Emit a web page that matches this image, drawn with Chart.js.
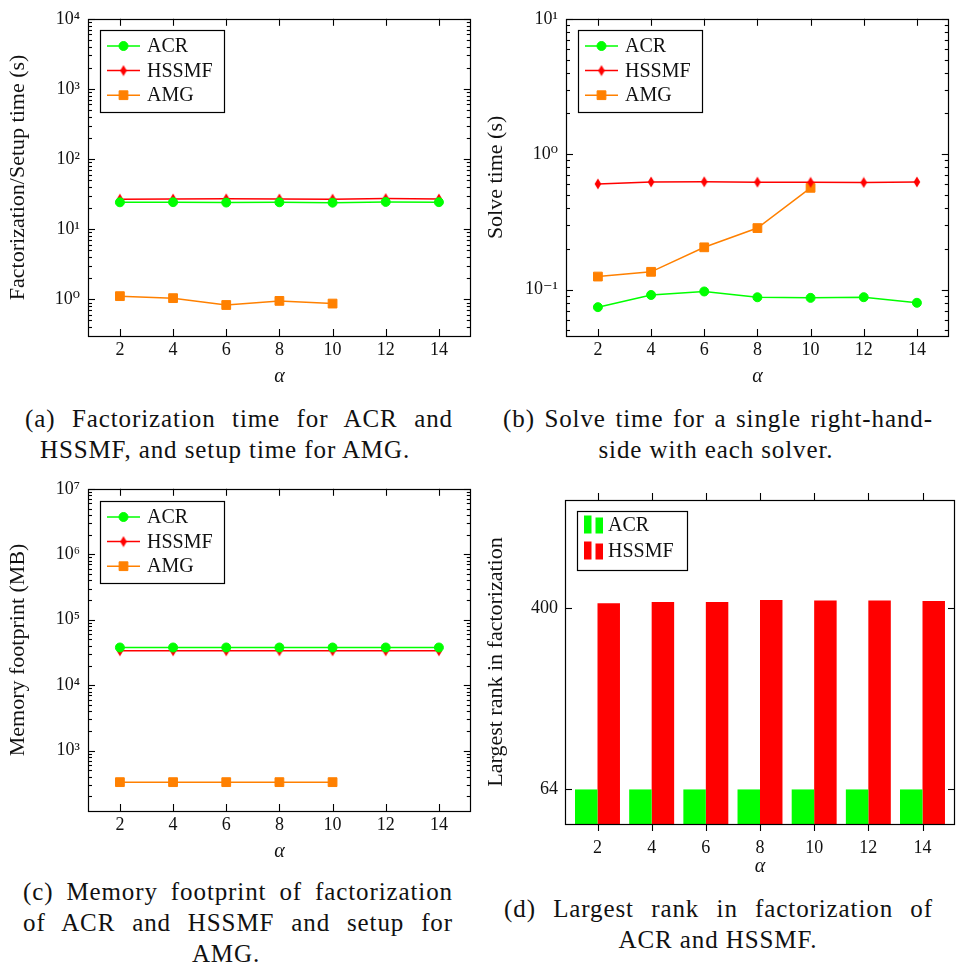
<!DOCTYPE html>
<html><head><meta charset="utf-8">
<script src="https://cdn.jsdelivr.net/npm/chart.js"></script>
<style>
html,body{margin:0;padding:0;background:#fff;}
#root{position:relative;width:956px;height:972px;overflow:hidden;font-family:"Liberation Serif","DejaVu Serif",serif;color:#111;}
.pane{position:absolute;}
.cap{position:absolute;font-size:25px;letter-spacing:0.9px;line-height:31px;height:31px;white-space:nowrap;}
.just{text-align:justify;text-align-last:justify;}
.ctr{text-align:center;}
</style></head>
<body>
<div id="root">
  <canvas id="cA" class="pane" style="left:0;top:0" width="478" height="395"></canvas>
  <canvas id="cB" class="pane" style="left:478px;top:0" width="478" height="395"></canvas>
  <canvas id="cC" class="pane" style="left:0;top:470px" width="478" height="400"></canvas>
  <canvas id="cD" class="pane" style="left:478px;top:470px" width="478" height="410"></canvas>

  <div class="cap just" style="left:25px;top:403px;width:428px">(a) Factorization time for ACR and</div>
  <div class="cap ctr" style="left:25px;top:434px;width:400px">HSSMF, and setup time for AMG.</div>

  <div class="cap just" style="left:503px;top:403px;width:430px">(b) Solve time for a single right-hand-</div>
  <div class="cap ctr" style="left:516px;top:434px;width:400px">side with each solver.</div>

  <div class="cap just" style="left:23px;top:876px;width:430px">(c) Memory footprint of factorization</div>
  <div class="cap just" style="left:23px;top:907px;width:430px">of ACR and HSSMF and setup for</div>
  <div class="cap ctr" style="left:26px;top:938px;width:400px">AMG.</div>

  <div class="cap just" style="left:504px;top:893px;width:429px">(d) Largest rank in factorization of</div>
  <div class="cap ctr" style="left:518px;top:924px;width:400px">ACR and HSSMF.</div>
</div>
<script>
// ---------------- data ----------------
const alpha = [2, 4, 6, 8, 10, 12, 14];
const alphaAMG = [2, 4, 6, 8, 10];
const xTicks = [2, 4, 6, 8, 10, 12, 14];
const seriesNames = ['ACR', 'HSSMF', 'AMG'];

const factACR   = [24.2, 24.3, 24.0, 24.2, 23.9, 24.5, 24.3];
const factHSSMF = [26.8, 26.9, 27.1, 27.0, 26.8, 27.3, 27.0];
const setupAMG  = [1.11, 1.04, 0.83, 0.95, 0.87];

const solveACR   = [0.0743, 0.0914, 0.097, 0.0879, 0.087, 0.088, 0.080];
const solveHSSMF = [0.604, 0.624, 0.626, 0.622, 0.620, 0.619, 0.624];
const solveAMG   = [0.125, 0.1355, 0.2055, 0.285, 0.565];

const memACR   = [37700, 37700, 37700, 37700, 37700, 37700, 37700];
const memHSSMF = [33600, 33600, 33600, 33600, 33600, 33600, 33600];
const memAMG   = [331, 331, 331, 331, 331];

const rankACR   = [64, 64, 64, 64, 64, 64, 64];
const rankHSSMF = [409, 411, 411, 415, 414, 414, 413];

const yTicksA = [1, 10, 100, 1000, 10000];
const yTicksB = [0.1, 1, 10];
const yTicksC = [1000, 10000, 100000, 1000000, 10000000];
const yTicksD = [64, 400];

const titles = {
  a: 'Factorization/Setup time (s)',
  b: 'Solve time (s)',
  c: 'Memory footprint (MB)',
  d: 'Largest rank in factorization',
  x: 'α'
};

// ---------------- styling helpers ----------------
const GREEN = '#00ff00', RED = '#ff0000', ORANGE = '#ff8000';
const FONT = '"Liberation Serif", "DejaVu Serif", serif';
const SUP = {'-':'⁻','0':'⁰','1':'¹','2':'²','3':'³','4':'⁴','5':'⁵','6':'⁶','7':'⁷','8':'⁸','9':'⁹'};
function powLabel(v) {
  const e = Math.round(Math.log10(v));
  return '10' + String(e).split('').map(c => SUP[c]).join('');
}
function diamond(color) {
  const c = document.createElement('canvas');
  c.width = 8; c.height = 12;
  const g = c.getContext('2d');
  g.fillStyle = color;
  g.beginPath();
  g.moveTo(4, 0.5); g.lineTo(7.3, 6); g.lineTo(4, 11.5); g.lineTo(0.7, 6);
  g.closePath(); g.fill();
  return c;
}
function lineDS(label, xs, ys, color, pointStyle, radius) {
  return {
    label, data: xs.map((x, i) => ({x, y: ys[i]})),
    borderColor: color, backgroundColor: color, borderWidth: 1.5,
    pointStyle, pointRadius: radius, pointBorderWidth: 1,
    pointBackgroundColor: color, pointBorderColor: color, tension: 0
  };
}

// frame + inward ticks (pgfplots style)
const pgfFrame = {
  id: 'pgfFrame',
  afterDraw(chart, args, o) {
    const {ctx, chartArea: a, scales} = chart;
    const xs = scales.x, ys = scales.y;
    ctx.save();
    ctx.strokeStyle = '#000';
    ctx.lineWidth = 1.1;
    const seg = (x1, y1, x2, y2) => { ctx.beginPath(); ctx.moveTo(x1, y1); ctx.lineTo(x2, y2); ctx.stroke(); };
    const xl = o.xOut ? -7 : 7;
    for (const v of o.xMajor) {
      const p = Math.round(xs.getPixelForValue(v)) + 0.5;
      seg(p, a.bottom, p, a.bottom - xl);
      seg(p, a.top, p, a.top + xl);
    }
    for (const v of o.yMajor) {
      const p = Math.round(ys.getPixelForValue(v)) + 0.5;
      seg(a.left, p, a.left + 7, p);
      seg(a.right, p, a.right - 7, p);
    }
    for (const v of (o.yMinor || [])) {
      const p = Math.round(ys.getPixelForValue(v)) + 0.5;
      if (p < a.top || p > a.bottom) continue;
      seg(a.left, p, a.left + 4, p);
      seg(a.right, p, a.right - 4, p);
    }
    ctx.lineWidth = 1.2;
    ctx.strokeRect(Math.round(a.left) + 0.5, Math.round(a.top) + 0.5,
                   Math.round(a.right) - Math.round(a.left) - 1, Math.round(a.bottom) - Math.round(a.top));
    ctx.restore();
  }
};

// legend box (pgfplots style)
const pgfLegend = {
  id: 'pgfLegend',
  afterDraw(chart, args, o) {
    const {ctx, chartArea: a} = chart;
    const x0 = Math.round(a.left + o.dx), y0 = Math.round(a.top + o.dy);
    ctx.save();
    ctx.fillStyle = '#fff';
    ctx.fillRect(x0, y0, o.w, o.h);
    ctx.strokeStyle = '#000'; ctx.lineWidth = 1.2;
    ctx.strokeRect(x0 + 0.5, y0 + 0.5, o.w, o.h);
    chart.data.datasets.forEach((ds, i) => {
      const cy = y0 + o.first + i * o.gap;
      if (o.kind === 'line') {
        ctx.strokeStyle = ds.borderColor; ctx.lineWidth = ds.borderWidth;
        ctx.beginPath(); ctx.moveTo(x0 + 7, cy); ctx.lineTo(x0 + 40, cy); ctx.stroke();
        ctx.fillStyle = ds.pointBackgroundColor; ctx.strokeStyle = ds.pointBorderColor; ctx.lineWidth = ds.pointBorderWidth;
        Chart.helpers.drawPoint(ctx, {pointStyle: ds.pointStyle, radius: ds.pointRadius, borderWidth: ds.pointBorderWidth, rotation: 0}, x0 + 23.5, cy);
      } else {
        ctx.fillStyle = ds.backgroundColor;
        ctx.fillRect(x0 + 7, cy - 9, 7.5, 18);
        ctx.fillRect(x0 + 18.5, cy - 7, 7.5, 16);
      }
      ctx.fillStyle = '#111';
      ctx.font = '20px ' + FONT;
      ctx.textBaseline = 'middle';
      ctx.textAlign = 'left';
      ctx.fillText(ds.label, x0 + o.tx, cy + 1);
    });
    ctx.restore();
  }
};

function minorLog(lo, hi) {
  const out = [];
  for (let e = lo; e <= hi; e++) for (let m = 2; m <= 9; m++) out.push(m * Math.pow(10, e));
  return out;
}

function makeOptions(cfg) {
  return {
    responsive: false, animation: false, devicePixelRatio: 1,
    layout: {padding: {left: 0, top: cfg.top, right: cfg.W - cfg.right, bottom: 0}},
    plugins: {
      legend: {display: false}, tooltip: {enabled: false},
      pgfFrame: cfg.frame,
      pgfLegend: cfg.legend
    },
    scales: {
      x: {
        type: 'linear', position: 'bottom', min: 0.8, max: 15.2, offset: false,
        grid: {display: false, drawTicks: false}, border: {display: false},
        afterBuildTicks: s => { s.ticks = xTicks.map(v => ({value: v})); },
        afterFit: s => { s.height = cfg.H - cfg.bottom; },
        ticks: {font: {family: FONT, size: 18}, color: '#111', padding: cfg.xPad, autoSkip: false, maxRotation: 0, minRotation: 0},
        title: {display: true, text: titles.x, color: '#111', font: {family: FONT, size: 20, style: 'italic'}, padding: {top: 0, bottom: cfg.xTitlePad}}
      },
      y: {
        type: cfg.yType, position: 'left', min: cfg.yMin, max: cfg.yMax,
        grid: {display: false, drawTicks: false}, border: {display: false},
        afterBuildTicks: s => { s.ticks = cfg.yTicks.map(v => ({value: v})); },
        afterFit: s => { s.width = cfg.left; },
        ticks: {font: {family: FONT, size: 18}, color: '#111', padding: cfg.yPad, autoSkip: false,
                callback: cfg.yType === 'logarithmic' ? (v => powLabel(v)) : (v => String(v))},
        title: {display: true, text: cfg.yTitle, color: '#111', font: {family: FONT, size: 22}, padding: {top: 5, bottom: 0}}
      }
    }
  };
}

const lineLegend = {kind: 'line', dx: 12, dy: 11, w: 124, h: 82, first: 16, gap: 24.6, tx: 47};
const plugins = [pgfFrame, pgfLegend];

// (a)
new Chart(document.getElementById('cA'), {
  type: 'line',
  data: {datasets: [
    lineDS(seriesNames[0], alpha, factACR, GREEN, 'circle', 4.5),
    lineDS(seriesNames[1], alpha, factHSSMF, RED, diamond(RED), 5),
    lineDS(seriesNames[2], alphaAMG, setupAMG, ORANGE, 'rect', 6.2)
  ]},
  options: makeOptions({W: 478, H: 395, left: 88, right: 476, top: 12, bottom: 336,
    yType: 'logarithmic', yMin: 0.327, yMax: 10000, yTicks: yTicksA, yTitle: titles.a,
    xPad: 3, yPad: 8, xTitlePad: 6,
    frame: {xMajor: xTicks, yMajor: yTicksA, yMinor: minorLog(-1, 3)},
    legend: lineLegend}),
  plugins
});

// (b)
new Chart(document.getElementById('cB'), {
  type: 'line',
  data: {datasets: [
    lineDS(seriesNames[0], alpha, solveACR, GREEN, 'circle', 4.5),
    lineDS(seriesNames[1], alpha, solveHSSMF, RED, diamond(RED), 5),
    lineDS(seriesNames[2], alphaAMG, solveAMG, ORANGE, 'rect', 6.2)
  ]},
  options: makeOptions({W: 478, H: 395, left: 88, right: 477, top: 12, bottom: 336,
    yType: 'logarithmic', yMin: 0.0455, yMax: 10, yTicks: yTicksB, yTitle: titles.b,
    xPad: 3, yPad: 8, xTitlePad: 6,
    frame: {xMajor: xTicks, yMajor: yTicksB, yMinor: minorLog(-2, 0)},
    legend: lineLegend}),
  plugins
});

// (c)
new Chart(document.getElementById('cC'), {
  type: 'line',
  data: {datasets: [
    lineDS(seriesNames[0], alpha, memACR, GREEN, 'circle', 4.5),
    lineDS(seriesNames[1], alpha, memHSSMF, RED, diamond(RED), 5),
    lineDS(seriesNames[2], alphaAMG, memAMG, ORANGE, 'rect', 6.2)
  ]},
  options: makeOptions({W: 478, H: 400, left: 88, right: 476, top: 16, bottom: 341,
    yType: 'logarithmic', yMin: 120, yMax: 10000000, yTicks: yTicksC, yTitle: titles.c,
    xPad: 3, yPad: 8, xTitlePad: 6,
    frame: {xMajor: xTicks, yMajor: yTicksC, yMinor: minorLog(2, 6)},
    legend: Object.assign({}, lineLegend, {dy: 12})}),
  plugins
});

// (d)
new Chart(document.getElementById('cD'), {
  type: 'bar',
  data: {datasets: [
    {label: seriesNames[0], data: alpha.map((x, i) => ({x, y: rankACR[i]})), backgroundColor: GREEN, borderWidth: 0,
     categoryPercentage: 0.83, barPercentage: 1.0},
    {label: seriesNames[1], data: alpha.map((x, i) => ({x, y: rankHSSMF[i]})), backgroundColor: RED, borderWidth: 0,
     categoryPercentage: 0.83, barPercentage: 1.0}
  ]},
  options: makeOptions({W: 478, H: 410, left: 87, right: 477, top: 30, bottom: 354,
    yType: 'linear', yMin: 0, yMax: 600, yTicks: yTicksD, yTitle: titles.d,
    xPad: 13, yPad: 7, xTitlePad: 1,
    frame: {xMajor: xTicks, yMajor: yTicksD, xOut: true},
    legend: {kind: 'bar', dx: 12, dy: 11, w: 110, h: 59, first: 13.5, gap: 26, tx: 31}}),
  plugins
});
</script>
</body></html>
